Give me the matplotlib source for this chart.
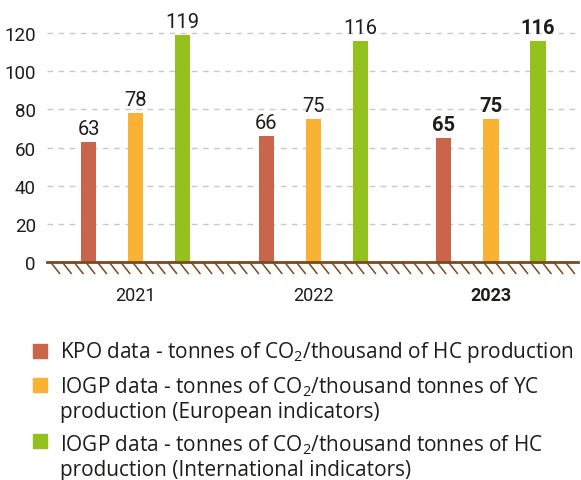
#!/usr/bin/env python3
"""CO2 intensity bar chart, KPO vs IOGP benchmarks."""

import matplotlib

matplotlib.use("Agg")
import matplotlib.pyplot as plt
import numpy as np
from matplotlib.patches import Rectangle

years = ["2021", "2022", "2023"]
kpo = [63, 66, 65]
iogp_eu = [78, 75, 75]
iogp_int = [119, 116, 116]
yticks = [0, 20, 40, 60, 80, 100, 120]

series = [kpo, iogp_eu, iogp_int]
colors = ["#C8654A", "#F9B233", "#95C11F"]
legend_labels = [
    "KPO data - tonnes of CO$_2$/thousand of HC production",
    "IOGP data - tonnes of CO$_2$/thousand tonnes of YC\nproduction (European indicators)",
    "IOGP data - tonnes of CO$_2$/thousand tonnes of HC\nproduction (International indicators)",
]

TXT = "#1d1d1b"
BROWN = "#7a4a1c"

plt.rcParams.update(
    {
        "font.family": ["Roboto", "DejaVu Sans"],
        "mathtext.fontset": "custom",
        "mathtext.rm": "Open Sans",
        "mathtext.it": "Open Sans",
        "font.size": 13,
        "text.color": TXT,
    }
)

W, H = 581, 481
fig = plt.figure(figsize=(W / 100, H / 100), dpi=100)
# axes in pixel terms: left 47, right 578, bottom (y=0) at 263, top at 10
ax = fig.add_axes([47 / W, (H - 263) / H, (578 - 47) / W, (263 - 10) / H])
ax.set_xlim(-0.5, 2.49)
ax.set_ylim(0, 132.6)

x = np.arange(len(years))
offs = [-0.265, 0.0, 0.265]
bw = 0.085
for vals, c, o in zip(series, colors, offs):
    bars = ax.bar(x + o, vals, width=bw, color=c, zorder=3)
    for i, (b, v) in enumerate(zip(bars, vals)):
        ax.annotate(
            str(v),
            (b.get_x() + b.get_width() / 2, v),
            xytext=(0, 3),
            textcoords="offset points",
            ha="center",
            va="bottom",
            fontsize=14.5,
            fontweight="bold" if i == len(years) - 1 else "normal",
        )

ax.set_yticks(yticks)
ax.yaxis.grid(True, color="#c8c8c8", linestyle=(0, (4, 4)), linewidth=1.0)
ax.set_axisbelow(True)
for s in ax.spines.values():
    s.set_visible(False)
ax.tick_params(axis="y", length=0, pad=8, labelsize=13.5, labelcolor=TXT)
ax.set_xticks(x)
ax.set_xticklabels(years)
ax.tick_params(axis="x", length=0, pad=17, labelsize=13, labelcolor=TXT)
ax.get_xticklabels()[-1].set_fontweight("bold")

# ground line with hatching below
ax.axhline(0, color=BROWN, linewidth=2, zorder=4, clip_on=False)
trans = ax.get_xaxis_transform()
step = 11.7 / 531 * (2.49 + 0.5)
dx = 9.5 / 531 * (2.49 + 0.5)
for hx in np.arange(-0.5 + 0.3 * step, 2.49 - dx * 0.5, step):
    ax.plot(
        [hx, hx + dx],
        [0, -12 / 253],
        transform=trans,
        color=BROWN,
        linewidth=1.1,
        clip_on=False,
        solid_capstyle="butt",
    )

# legend
sq_y = [352, 386, 442]
txt_top = [340, 375, 433]
for c, lab, yc, yt in zip(colors, legend_labels, sq_y, txt_top):
    fig.patches.append(
        Rectangle(
            (33 / W, 1 - (yc + 7) / H),
            14 / W,
            14 / H,
            transform=fig.transFigure,
            color=c,
        )
    )
    fig.text(
        60 / W,
        1 - yt / H,
        lab,
        ha="left",
        va="top",
        fontsize=14.95,
        family=["Open Sans", "DejaVu Sans"],
        linespacing=1.22,
    )

fig.savefig("out.png", dpi=100, facecolor="white")
